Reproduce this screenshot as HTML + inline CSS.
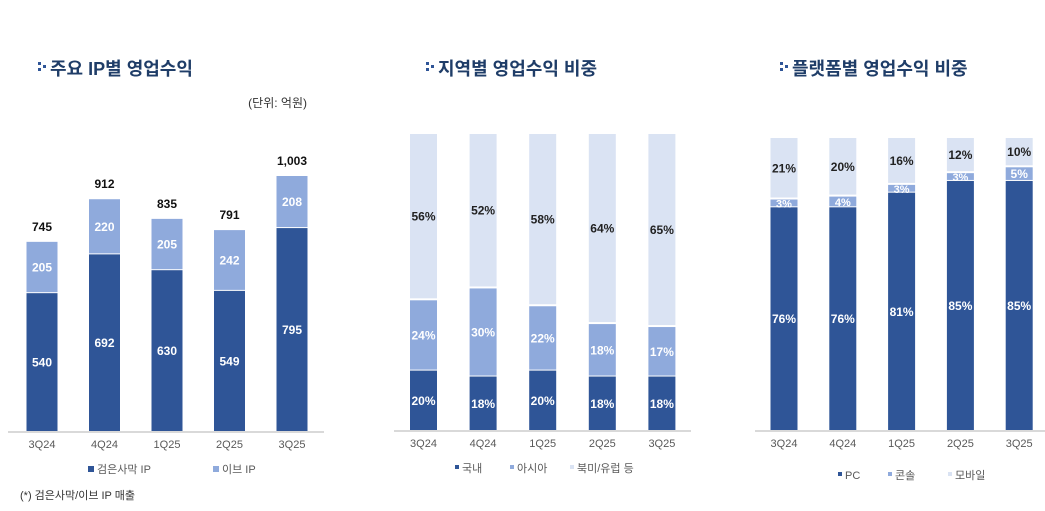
<!DOCTYPE html>
<html><head><meta charset="utf-8"><style>
body{margin:0;width:1045px;height:511px;background:#fff;overflow:hidden;font-family:"Liberation Sans","Noto Sans CJK KR",sans-serif}
svg{position:absolute;left:0;top:0}
</style></head><body>
<svg id="c" width="1045" height="511">
<g font-family="Liberation Sans, Noto Sans CJK KR, sans-serif" font-weight="bold" font-size="18" fill="#1f3d68">
<text x="50" y="75">주요 IP별 영업수익</text>
<text x="438" y="75">지역별 영업수익 비중</text>
<text x="792" y="75">플랫폼별 영업수익 비중</text>
</g>
<text x="307" y="107" text-anchor="end" font-size="12" fill="#333">(단위: 억원)</text>
<text x="20" y="499" font-size="11" fill="#333">(*) 검은사막/이브 IP 매출</text>
</svg>
<script>
const quarters=["3Q24","4Q24","1Q25","2Q25","3Q25"];
const ipBlack=[540,692,630,549,795];
const ipEve=[205,220,205,242,208];
const ipTotal=[745,912,835,791,1003];
const regDom=[20,18,20,18,18];
const regAsia=[24,30,22,18,17];
const regNA=[56,52,58,64,65];
const platPC=[76,76,81,85,85];
const platCon=[3,4,3,3,5];
const platMob=[21,20,16,12,10];
const C1="#2f5597",C2="#8faadc",C3="#dae3f3";
const svg=document.getElementById('c');
const NS="http://www.w3.org/2000/svg";
function mk(t,a,txt){const e=document.createElementNS(NS,t);for(const k in a)e.setAttribute(k,a[k]);if(txt!=null)e.textContent=txt;svg.appendChild(e);return e;}
function icon(x,y){[[0,0],[5,3],[0,6]].forEach(p=>{const r=mk('rect',{x:x+p[0],y:y+p[1],width:3,height:3,fill:'#2f5597'});

});}
icon(38,62);icon(426,62);icon(780,62);
function chart(o){
  const n=quarters.length;
  const ax=mk('rect',{x:o.ax0,y:o.base,width:o.ax1-o.ax0,height:2,fill:'#d9d9d9'});
  
  
  for(let i=0;i<n;i++){
    const cx=o.c0+i*o.step;
    let y=o.base;
    o.series.forEach((s,k)=>{
      const v=s[i],h=v*o.scale;
      const r=mk('rect',{x:cx-o.w/2,y:y-h+(k>0?1:0),width:o.w,height:Math.max(h-(k>0?2:0),0.5),fill:o.cols[k]});
      
      
      const big=h>12;
      const t=mk('text',{x:cx,y:y-h/2+4.5,'text-anchor':'middle','font-size':big?12:11,'font-weight':'bold',fill:k==2?'#222':'#fff'},v+(o.pct?'%':''));
      
      
      y-=h;
    });
    if(o.total){const t=mk('text',{x:cx,y:y-10,'text-anchor':'middle','font-size':12,'font-weight':'bold',fill:'#111'},o.total[i].toLocaleString('en-US'));
      
      }
    const tl=mk('text',{x:cx,y:o.base+17,'text-anchor':'middle','font-size':11,fill:'#595959'},quarters[i]);
    
    
  }
  o.legend.forEach((L,k)=>{
    const r=mk('rect',{x:L[0],y:o.ly-7,width:o.ms,height:o.ms,fill:o.cols[k]});
    
    
    const t=mk('text',{x:L[0]+o.ms+3,y:o.ly,'font-size':11,fill:'#595959'},L[1]);
    
    
  });
}
chart({series:[ipBlack,ipEve],names:['black-desert','eve'],cols:[C1,C2],total:ipTotal,base:431,scale:256/1003,c0:42,step:62.5,w:31,ax0:8,ax1:324,pct:false,ly:473,ms:6,legend:[[88,'검은사막 IP'],[213,'이브 IP']]});
chart({series:[regDom,regAsia,regNA],names:['domestic','asia','na-eu'],cols:[C1,C2,C3],base:430,scale:297/100,c0:423.5,step:59.6,w:27,ax0:394,ax1:691,pct:true,ly:472,ms:4,legend:[[455,'국내'],[510,'아시아'],[570,'북미/유럽 등']]});
chart({series:[platPC,platCon,platMob],names:['pc','console','mobile'],cols:[C1,C2,C3],base:430,scale:293/100,c0:784,step:58.8,w:27,ax0:755,ax1:1045,pct:true,ly:479,ms:4,legend:[[838,'PC'],[888,'콘솔'],[948,'모바일']]});
</script>
</body></html>
